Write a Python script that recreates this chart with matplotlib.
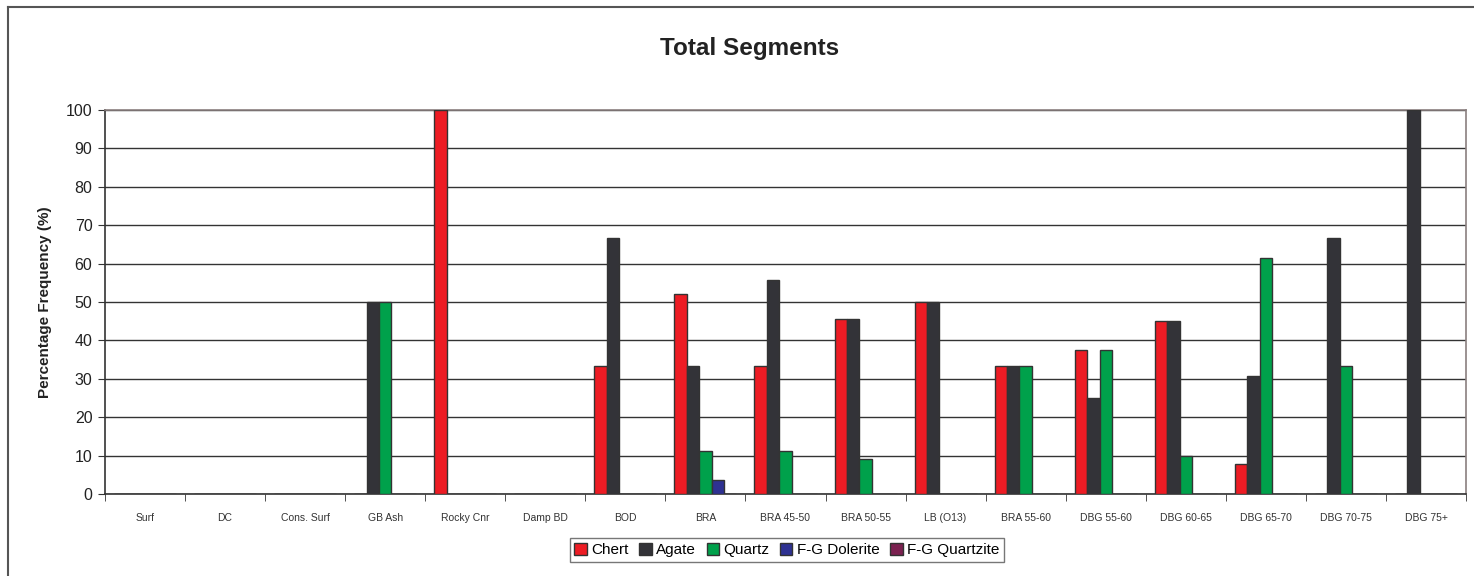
import numpy as np
import matplotlib.pyplot as plt
from matplotlib.lines import Line2D

plt.rcParams['font.family'] = ['Liberation Sans', 'DejaVu Sans']

categories = ['Surf', 'DC', 'Cons. Surf', 'GB Ash', 'Rocky Cnr', 'Damp BD', 'BOD', 'BRA',
              'BRA 45-50', 'BRA 50-55', 'LB (O13)', 'BRA 55-60', 'DBG 55-60', 'DBG 60-65',
              'DBG 65-70', 'DBG 70-75', 'DBG 75+']
chert = [0, 0, 0, 0, 100, 0, 33.3, 52, 33.3, 45.5, 50, 33.3, 37.5, 45, 7.7, 0, 0]
agate = [0, 0, 0, 50, 0, 0, 66.7, 33.3, 55.6, 45.5, 50, 33.3, 25, 45, 30.8, 66.7, 100]
quartz = [0, 0, 0, 50, 0, 0, 0, 11.1, 11.1, 9.1, 0, 33.3, 37.5, 10, 61.5, 33.3, 0]
fg_dolerite = [0, 0, 0, 0, 0, 0, 0, 3.7, 0, 0, 0, 0, 0, 0, 0, 0, 0]
fg_quartzite = [0] * 17

series = [('Chert', chert, '#ed1c24'),
          ('Agate', agate, '#333338'),
          ('Quartz', quartz, '#00a14b'),
          ('F-G Dolerite', fg_dolerite, '#2e3192'),
          ('F-G Quartzite', fg_quartzite, '#7b2150')]

fig = plt.figure(figsize=(14.74, 5.76), dpi=100)
ax = fig.add_axes([105 / 1474, 82 / 576, 1361 / 1474, 384 / 576])

# outer chart border (top and left only visible)
fig.add_artist(Line2D([8 / 1474, 1474 / 1474], [1 - 7 / 576, 1 - 7 / 576],
                      transform=fig.transFigure, color='#555555', lw=1.5))
fig.add_artist(Line2D([8 / 1474, 8 / 1474], [0, 1 - 7 / 576],
                      transform=fig.transFigure, color='#555555', lw=1.5))

x = np.arange(len(categories))
w = 0.155
handles = []
for i, (name, vals, col) in enumerate(series):
    b = ax.bar(x + (i - 2) * w, vals, w, color=col, edgecolor='#333333', linewidth=1,
               label=name, zorder=3)
    handles.append(b)

ax.set_xlim(-0.5, len(categories) - 0.5)
ax.set_ylim(0, 100)
ax.set_yticks(range(0, 101, 10))
ax.yaxis.grid(True, color='#333333', lw=1)
ax.set_axisbelow(True)
ax.tick_params(axis='y', labelsize=11.5, direction='out', length=5, color='#333333',
               labelcolor='#222222', pad=4)

ax.set_xticks(x)
ax.set_xticklabels(categories, fontsize=7.5, color='#333333')
ax.tick_params(axis='x', length=0, pad=14)
ax.set_xticks(np.arange(-0.5, len(categories)), minor=True)
ax.tick_params(axis='x', which='minor', length=5, direction='out', color='#333333')

for s in ['left', 'bottom']:
    ax.spines[s].set_color('#333333')
    ax.spines[s].set_linewidth(1.2)
for s in ['top', 'right']:
    ax.spines[s].set_color('#8a7f7f')
    ax.spines[s].set_linewidth(1.2)

ax.set_ylabel('Percentage Frequency (%)', fontsize=11, fontweight='bold', color='#222222',
              labelpad=10)
fig.text(750 / 1474, 1 - 48 / 576, 'Total Segments', ha='center', va='center',
         fontsize=17.5, fontweight='bold', color='#222222')

leg = fig.legend(handles=handles, loc='center', bbox_to_anchor=(787 / 1474, 1 - 550 / 576),
                 ncol=5, fontsize=11, frameon=True, fancybox=False, edgecolor='#555555',
                 handlelength=0.8, handleheight=0.8, handletextpad=0.3, columnspacing=0.7,
                 borderpad=0.3, borderaxespad=0)
leg.get_frame().set_linewidth(1)

fig.savefig('out.png', dpi=100)
